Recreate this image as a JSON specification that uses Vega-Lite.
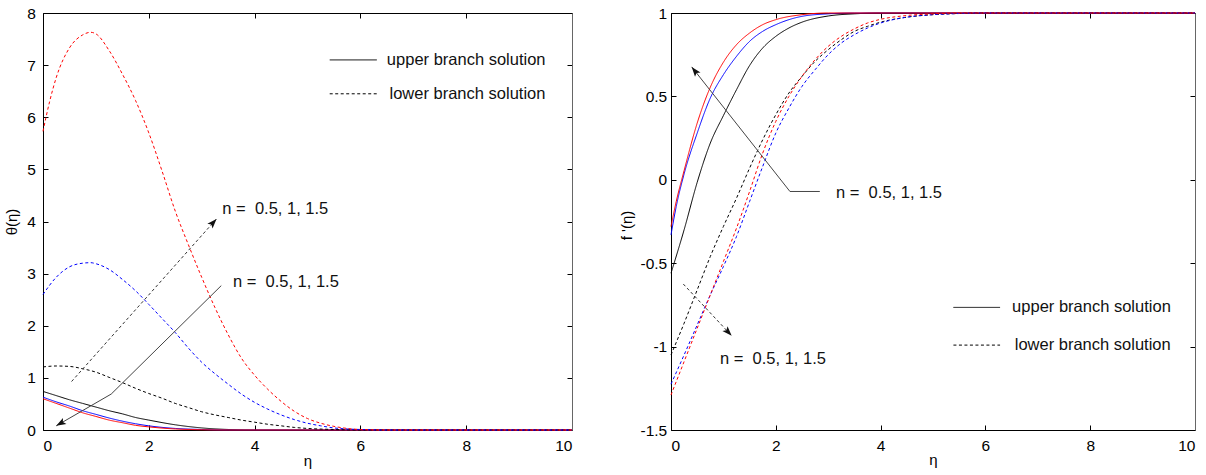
{
  "$schema": "https://vega.github.io/schema/vega-lite/v6.json",
  "background": "white",
  "padding": {"left": 4, "top": 6, "right": 5, "bottom": 5},
  "bounds": "flush",
  "spacing": 99,
  "config": {
    "view": {"stroke": null},
    "font": "Liberation Sans",
    "axis": {
      "labelFont": "Liberation Sans", "labelFontSize": 15.5, "labelColor": "#000",
      "titleFont": "Liberation Sans", "titleFontSize": 15, "titleFontWeight": "normal", "titleColor": "#000",
      "tickColor": "#000", "tickSize": -5, "tickWidth": 1,
      "domainColor": "#000", "domainWidth": 1, "grid": false, "labelPadding": 13
    }
  },
  "datasets": {
    "theta": [
      {"eta":0,"v":0.74,"n":"0.5","branch":"upper"},{"eta":0.25,"v":0.66,"n":"0.5","branch":"upper"},{"eta":0.5,"v":0.58,"n":"0.5","branch":"upper"},{"eta":0.75,"v":0.51,"n":"0.5","branch":"upper"},{"eta":1,"v":0.44,"n":"0.5","branch":"upper"},{"eta":1.25,"v":0.37,"n":"0.5","branch":"upper"},{"eta":1.5,"v":0.31,"n":"0.5","branch":"upper"},{"eta":1.75,"v":0.24,"n":"0.5","branch":"upper"},{"eta":2,"v":0.19,"n":"0.5","branch":"upper"},{"eta":2.5,"v":0.1,"n":"0.5","branch":"upper"},{"eta":3,"v":0.04,"n":"0.5","branch":"upper"},{"eta":3.5,"v":0.01,"n":"0.5","branch":"upper"},{"eta":4,"v":0,"n":"0.5","branch":"upper"},{"eta":10,"v":0,"n":"0.5","branch":"upper"},
      {"eta":0,"v":0.63,"n":"1","branch":"upper"},{"eta":0.25,"v":0.54,"n":"1","branch":"upper"},{"eta":0.5,"v":0.46,"n":"1","branch":"upper"},{"eta":0.75,"v":0.37,"n":"1","branch":"upper"},{"eta":1,"v":0.3,"n":"1","branch":"upper"},{"eta":1.25,"v":0.23,"n":"1","branch":"upper"},{"eta":1.5,"v":0.17,"n":"1","branch":"upper"},{"eta":1.75,"v":0.12,"n":"1","branch":"upper"},{"eta":2,"v":0.08,"n":"1","branch":"upper"},{"eta":2.5,"v":0.03,"n":"1","branch":"upper"},{"eta":3,"v":0.01,"n":"1","branch":"upper"},{"eta":3.5,"v":0,"n":"1","branch":"upper"},{"eta":10,"v":0,"n":"1","branch":"upper"},
      {"eta":0,"v":0.6,"n":"1.5","branch":"upper"},{"eta":0.25,"v":0.51,"n":"1.5","branch":"upper"},{"eta":0.5,"v":0.42,"n":"1.5","branch":"upper"},{"eta":0.75,"v":0.33,"n":"1.5","branch":"upper"},{"eta":1,"v":0.26,"n":"1.5","branch":"upper"},{"eta":1.25,"v":0.19,"n":"1.5","branch":"upper"},{"eta":1.5,"v":0.14,"n":"1.5","branch":"upper"},{"eta":1.75,"v":0.09,"n":"1.5","branch":"upper"},{"eta":2,"v":0.06,"n":"1.5","branch":"upper"},{"eta":2.5,"v":0.02,"n":"1.5","branch":"upper"},{"eta":3,"v":0.005,"n":"1.5","branch":"upper"},{"eta":3.5,"v":0,"n":"1.5","branch":"upper"},{"eta":10,"v":0,"n":"1.5","branch":"upper"},
      {"eta":0,"v":1.21,"n":"0.5","branch":"lower"},{"eta":0.25,"v":1.228,"n":"0.5","branch":"lower"},{"eta":0.5,"v":1.22,"n":"0.5","branch":"lower"},{"eta":0.75,"v":1.175,"n":"0.5","branch":"lower"},{"eta":1,"v":1.11,"n":"0.5","branch":"lower"},{"eta":1.25,"v":1.01,"n":"0.5","branch":"lower"},{"eta":1.5,"v":0.91,"n":"0.5","branch":"lower"},{"eta":1.75,"v":0.8,"n":"0.5","branch":"lower"},{"eta":2,"v":0.7,"n":"0.5","branch":"lower"},{"eta":2.25,"v":0.61,"n":"0.5","branch":"lower"},{"eta":2.5,"v":0.51,"n":"0.5","branch":"lower"},{"eta":2.75,"v":0.43,"n":"0.5","branch":"lower"},{"eta":3,"v":0.35,"n":"0.5","branch":"lower"},{"eta":3.25,"v":0.29,"n":"0.5","branch":"lower"},{"eta":3.5,"v":0.24,"n":"0.5","branch":"lower"},{"eta":3.75,"v":0.19,"n":"0.5","branch":"lower"},{"eta":4,"v":0.15,"n":"0.5","branch":"lower"},{"eta":4.25,"v":0.11,"n":"0.5","branch":"lower"},{"eta":4.5,"v":0.08,"n":"0.5","branch":"lower"},{"eta":4.75,"v":0.05,"n":"0.5","branch":"lower"},{"eta":5,"v":0.03,"n":"0.5","branch":"lower"},{"eta":5.5,"v":0.01,"n":"0.5","branch":"lower"},{"eta":6,"v":0,"n":"0.5","branch":"lower"},{"eta":10,"v":0,"n":"0.5","branch":"lower"},
      {"eta":0,"v":2.6,"n":"1","branch":"lower"},{"eta":0.25,"v":2.93,"n":"1","branch":"lower"},{"eta":0.5,"v":3.13,"n":"1","branch":"lower"},{"eta":0.75,"v":3.2,"n":"1","branch":"lower"},{"eta":0.9,"v":3.21,"n":"1","branch":"lower"},{"eta":1,"v":3.19,"n":"1","branch":"lower"},{"eta":1.25,"v":3.08,"n":"1","branch":"lower"},{"eta":1.5,"v":2.89,"n":"1","branch":"lower"},{"eta":1.75,"v":2.67,"n":"1","branch":"lower"},{"eta":2,"v":2.41,"n":"1","branch":"lower"},{"eta":2.25,"v":2.14,"n":"1","branch":"lower"},{"eta":2.5,"v":1.87,"n":"1","branch":"lower"},{"eta":2.75,"v":1.57,"n":"1","branch":"lower"},{"eta":3,"v":1.3,"n":"1","branch":"lower"},{"eta":3.25,"v":1.08,"n":"1","branch":"lower"},{"eta":3.5,"v":0.88,"n":"1","branch":"lower"},{"eta":3.75,"v":0.69,"n":"1","branch":"lower"},{"eta":4,"v":0.53,"n":"1","branch":"lower"},{"eta":4.25,"v":0.4,"n":"1","branch":"lower"},{"eta":4.5,"v":0.29,"n":"1","branch":"lower"},{"eta":4.75,"v":0.2,"n":"1","branch":"lower"},{"eta":5,"v":0.13,"n":"1","branch":"lower"},{"eta":5.25,"v":0.08,"n":"1","branch":"lower"},{"eta":5.5,"v":0.04,"n":"1","branch":"lower"},{"eta":5.75,"v":0.02,"n":"1","branch":"lower"},{"eta":6,"v":0.01,"n":"1","branch":"lower"},{"eta":6.5,"v":0,"n":"1","branch":"lower"},{"eta":10,"v":0,"n":"1","branch":"lower"},
      {"eta":0,"v":5.73,"n":"1.5","branch":"lower"},{"eta":0.125,"v":6.3,"n":"1.5","branch":"lower"},{"eta":0.25,"v":6.76,"n":"1.5","branch":"lower"},{"eta":0.5,"v":7.33,"n":"1.5","branch":"lower"},{"eta":0.75,"v":7.58,"n":"1.5","branch":"lower"},{"eta":0.9,"v":7.63,"n":"1.5","branch":"lower"},{"eta":1,"v":7.6,"n":"1.5","branch":"lower"},{"eta":1.25,"v":7.28,"n":"1.5","branch":"lower"},{"eta":1.5,"v":6.83,"n":"1.5","branch":"lower"},{"eta":1.75,"v":6.32,"n":"1.5","branch":"lower"},{"eta":2,"v":5.7,"n":"1.5","branch":"lower"},{"eta":2.25,"v":4.97,"n":"1.5","branch":"lower"},{"eta":2.5,"v":4.2,"n":"1.5","branch":"lower"},{"eta":2.75,"v":3.55,"n":"1.5","branch":"lower"},{"eta":3,"v":2.93,"n":"1.5","branch":"lower"},{"eta":3.25,"v":2.35,"n":"1.5","branch":"lower"},{"eta":3.5,"v":1.83,"n":"1.5","branch":"lower"},{"eta":3.75,"v":1.38,"n":"1.5","branch":"lower"},{"eta":4,"v":1.05,"n":"1.5","branch":"lower"},{"eta":4.25,"v":0.78,"n":"1.5","branch":"lower"},{"eta":4.5,"v":0.55,"n":"1.5","branch":"lower"},{"eta":4.75,"v":0.36,"n":"1.5","branch":"lower"},{"eta":5,"v":0.22,"n":"1.5","branch":"lower"},{"eta":5.25,"v":0.13,"n":"1.5","branch":"lower"},{"eta":5.5,"v":0.07,"n":"1.5","branch":"lower"},{"eta":5.75,"v":0.03,"n":"1.5","branch":"lower"},{"eta":6,"v":0.01,"n":"1.5","branch":"lower"},{"eta":6.5,"v":0,"n":"1.5","branch":"lower"},{"eta":10,"v":0,"n":"1.5","branch":"lower"}
    ],
    "fprime": [
      {"eta":0,"v":-0.56,"n":"0.5","branch":"upper"},{"eta":0.25,"v":-0.3,"n":"0.5","branch":"upper"},{"eta":0.5,"v":-0.015,"n":"0.5","branch":"upper"},{"eta":0.75,"v":0.22,"n":"0.5","branch":"upper"},{"eta":1,"v":0.385,"n":"0.5","branch":"upper"},{"eta":1.25,"v":0.54,"n":"0.5","branch":"upper"},{"eta":1.5,"v":0.685,"n":"0.5","branch":"upper"},{"eta":1.75,"v":0.79,"n":"0.5","branch":"upper"},{"eta":2,"v":0.86,"n":"0.5","branch":"upper"},{"eta":2.25,"v":0.91,"n":"0.5","branch":"upper"},{"eta":2.5,"v":0.945,"n":"0.5","branch":"upper"},{"eta":3,"v":0.982,"n":"0.5","branch":"upper"},{"eta":3.5,"v":0.995,"n":"0.5","branch":"upper"},{"eta":4,"v":1,"n":"0.5","branch":"upper"},{"eta":10,"v":1,"n":"0.5","branch":"upper"},
      {"eta":0,"v":-0.33,"n":"1","branch":"upper"},{"eta":0.1,"v":-0.16,"n":"1","branch":"upper"},{"eta":0.25,"v":0.035,"n":"1","branch":"upper"},{"eta":0.5,"v":0.28,"n":"1","branch":"upper"},{"eta":0.75,"v":0.49,"n":"1","branch":"upper"},{"eta":1,"v":0.63,"n":"1","branch":"upper"},{"eta":1.25,"v":0.74,"n":"1","branch":"upper"},{"eta":1.5,"v":0.83,"n":"1","branch":"upper"},{"eta":1.75,"v":0.89,"n":"1","branch":"upper"},{"eta":2,"v":0.93,"n":"1","branch":"upper"},{"eta":2.5,"v":0.98,"n":"1","branch":"upper"},{"eta":3,"v":0.995,"n":"1","branch":"upper"},{"eta":3.5,"v":1,"n":"1","branch":"upper"},{"eta":10,"v":1,"n":"1","branch":"upper"},
      {"eta":0,"v":-0.28,"n":"1.5","branch":"upper"},{"eta":0.1,"v":-0.13,"n":"1.5","branch":"upper"},{"eta":0.25,"v":0.055,"n":"1.5","branch":"upper"},{"eta":0.5,"v":0.34,"n":"1.5","branch":"upper"},{"eta":0.75,"v":0.555,"n":"1.5","branch":"upper"},{"eta":1,"v":0.705,"n":"1.5","branch":"upper"},{"eta":1.25,"v":0.81,"n":"1.5","branch":"upper"},{"eta":1.5,"v":0.88,"n":"1.5","branch":"upper"},{"eta":1.75,"v":0.93,"n":"1.5","branch":"upper"},{"eta":2,"v":0.96,"n":"1.5","branch":"upper"},{"eta":2.5,"v":0.99,"n":"1.5","branch":"upper"},{"eta":3,"v":1,"n":"1.5","branch":"upper"},{"eta":10,"v":1,"n":"1.5","branch":"upper"},
      {"eta":0,"v":-1.05,"n":"0.5","branch":"lower"},{"eta":0.25,"v":-0.86,"n":"0.5","branch":"lower"},{"eta":0.5,"v":-0.66,"n":"0.5","branch":"lower"},{"eta":0.75,"v":-0.46,"n":"0.5","branch":"lower"},{"eta":1,"v":-0.28,"n":"0.5","branch":"lower"},{"eta":1.25,"v":-0.11,"n":"0.5","branch":"lower"},{"eta":1.5,"v":0.07,"n":"0.5","branch":"lower"},{"eta":1.75,"v":0.24,"n":"0.5","branch":"lower"},{"eta":2,"v":0.39,"n":"0.5","branch":"lower"},{"eta":2.25,"v":0.52,"n":"0.5","branch":"lower"},{"eta":2.5,"v":0.62,"n":"0.5","branch":"lower"},{"eta":2.75,"v":0.71,"n":"0.5","branch":"lower"},{"eta":3,"v":0.78,"n":"0.5","branch":"lower"},{"eta":3.25,"v":0.84,"n":"0.5","branch":"lower"},{"eta":3.5,"v":0.89,"n":"0.5","branch":"lower"},{"eta":3.75,"v":0.92,"n":"0.5","branch":"lower"},{"eta":4,"v":0.945,"n":"0.5","branch":"lower"},{"eta":4.5,"v":0.975,"n":"0.5","branch":"lower"},{"eta":5,"v":0.99,"n":"0.5","branch":"lower"},{"eta":5.5,"v":0.997,"n":"0.5","branch":"lower"},{"eta":6,"v":1,"n":"0.5","branch":"lower"},{"eta":10,"v":1,"n":"0.5","branch":"lower"},
      {"eta":0,"v":-1.225,"n":"1","branch":"lower"},{"eta":0.25,"v":-1.05,"n":"1","branch":"lower"},{"eta":0.5,"v":-0.87,"n":"1","branch":"lower"},{"eta":0.75,"v":-0.69,"n":"1","branch":"lower"},{"eta":1,"v":-0.52,"n":"1","branch":"lower"},{"eta":1.25,"v":-0.34,"n":"1","branch":"lower"},{"eta":1.5,"v":-0.13,"n":"1","branch":"lower"},{"eta":1.75,"v":0.08,"n":"1","branch":"lower"},{"eta":2,"v":0.28,"n":"1","branch":"lower"},{"eta":2.25,"v":0.43,"n":"1","branch":"lower"},{"eta":2.5,"v":0.56,"n":"1","branch":"lower"},{"eta":2.75,"v":0.66,"n":"1","branch":"lower"},{"eta":3,"v":0.75,"n":"1","branch":"lower"},{"eta":3.25,"v":0.82,"n":"1","branch":"lower"},{"eta":3.5,"v":0.87,"n":"1","branch":"lower"},{"eta":3.75,"v":0.91,"n":"1","branch":"lower"},{"eta":4,"v":0.94,"n":"1","branch":"lower"},{"eta":4.5,"v":0.975,"n":"1","branch":"lower"},{"eta":5,"v":0.99,"n":"1","branch":"lower"},{"eta":5.5,"v":0.997,"n":"1","branch":"lower"},{"eta":6,"v":1,"n":"1","branch":"lower"},{"eta":10,"v":1,"n":"1","branch":"lower"},
      {"eta":0,"v":-1.29,"n":"1.5","branch":"lower"},{"eta":0.25,"v":-1.09,"n":"1.5","branch":"lower"},{"eta":0.5,"v":-0.89,"n":"1.5","branch":"lower"},{"eta":0.75,"v":-0.69,"n":"1.5","branch":"lower"},{"eta":1,"v":-0.49,"n":"1.5","branch":"lower"},{"eta":1.25,"v":-0.29,"n":"1.5","branch":"lower"},{"eta":1.5,"v":-0.07,"n":"1.5","branch":"lower"},{"eta":1.75,"v":0.16,"n":"1.5","branch":"lower"},{"eta":2,"v":0.35,"n":"1.5","branch":"lower"},{"eta":2.25,"v":0.5,"n":"1.5","branch":"lower"},{"eta":2.5,"v":0.62,"n":"1.5","branch":"lower"},{"eta":2.75,"v":0.72,"n":"1.5","branch":"lower"},{"eta":3,"v":0.8,"n":"1.5","branch":"lower"},{"eta":3.25,"v":0.86,"n":"1.5","branch":"lower"},{"eta":3.5,"v":0.905,"n":"1.5","branch":"lower"},{"eta":3.75,"v":0.94,"n":"1.5","branch":"lower"},{"eta":4,"v":0.962,"n":"1.5","branch":"lower"},{"eta":4.5,"v":0.985,"n":"1.5","branch":"lower"},{"eta":5,"v":0.995,"n":"1.5","branch":"lower"},{"eta":5.5,"v":1,"n":"1.5","branch":"lower"},{"eta":10,"v":1,"n":"1.5","branch":"lower"}
    ]
  },
  "hconcat": [
    {
      "width": 529,
      "height": 417,
      "resolve": {"axis": {"x": "independent", "y": "independent"}},
      "layer": [
        {
          "data": {"name": "theta"},
          "mark": {"type": "line", "strokeWidth": 1, "interpolate": "monotone"},
          "encoding": {
            "x": {"field": "eta", "type": "quantitative", "scale": {"domain": [0, 10], "nice": false},
                  "axis": {"orient": "bottom", "values": [0, 2, 4, 6, 8, 10], "title": "η", "titleY": 35, "titleBaseline": "alphabetic"}},
            "y": {"field": "v", "type": "quantitative", "scale": {"domain": [0, 8], "nice": false},
                  "axis": {"orient": "left", "values": [0, 1, 2, 3, 4, 5, 6, 7, 8], "title": "θ(η)", "titleX": -32, "titleBaseline": "middle", "labelPadding": 12.6}},
            "color": {"field": "n", "type": "nominal", "scale": {"domain": ["0.5", "1", "1.5"], "range": ["#000000", "#0000ff", "#ff0000"]}, "legend": null},
            "strokeDash": {"field": "branch", "type": "nominal", "scale": {"domain": ["upper", "lower"], "range": [[1, 0], [3, 2.5]]}, "legend": null}
          }
        },
        {
          "data": {"values": [
            {"eta": 5.42, "v": 7.1, "branch": "upper"}, {"eta": 6.31, "v": 7.1, "branch": "upper"},
            {"eta": 5.42, "v": 6.45, "branch": "lower"}, {"eta": 6.31, "v": 6.45, "branch": "lower"}
          ]},
          "mark": {"type": "line", "strokeWidth": 1, "color": "#000"},
          "encoding": {
            "x": {"field": "eta", "type": "quantitative", "scale": {"domain": [0, 10], "nice": false},
                  "axis": {"orient": "top", "values": [0, 2, 4, 6, 8, 10], "labels": false, "title": null}},
            "y": {"field": "v", "type": "quantitative", "scale": {"domain": [0, 8], "nice": false},
                  "axis": {"orient": "right", "values": [0, 1, 2, 3, 4, 5, 6, 7, 8], "labels": false, "title": null, "domainColor": "#666"}},
            "strokeDash": {"field": "branch", "type": "nominal", "legend": null}
          }
        },
        {
          "data": {"values": [
            {"eta": 6.5, "v": 7.1, "label": "upper branch solution"},
            {"eta": 6.55, "v": 6.45, "label": "lower branch solution"},
            {"eta": 3.39, "v": 4.24, "label": "n = \u00a00.5, 1, 1.5"},
            {"eta": 3.59, "v": 2.83, "label": "n = \u00a00.5, 1, 1.5"}
          ]},
          "mark": {"type": "text", "align": "left", "baseline": "middle", "fontSize": 16.5, "font": "Liberation Sans", "color": "#111"},
          "encoding": {
            "x": {"field": "eta", "type": "quantitative", "scale": {"domain": [0, 10], "nice": false}, "axis": null},
            "y": {"field": "v", "type": "quantitative", "scale": {"domain": [0, 8], "nice": false}, "axis": null},
            "text": {"field": "label"}
          }
        },
        {
          "data": {"values": [{"eta": 0.54, "v": 0.93}, {"eta": 3.28, "v": 4.05}]},
          "mark": {"type": "line", "strokeWidth": 1, "color": "#333", "strokeDash": [3, 2.5]},
          "encoding": {
            "x": {"field": "eta", "type": "quantitative", "scale": {"domain": [0, 10], "nice": false}, "axis": null},
            "y": {"field": "v", "type": "quantitative", "scale": {"domain": [0, 8], "nice": false}, "axis": null}
          }
        },
        {
          "data": {"values": [{"eta": 3.37, "v": 2.77, "k": 1}, {"eta": 1.29, "v": 0.69, "k": 2}, {"eta": 0.25, "v": 0.08, "k": 3}]},
          "mark": {"type": "line", "strokeWidth": 1, "color": "#444"},
          "encoding": {
            "x": {"field": "eta", "type": "quantitative", "scale": {"domain": [0, 10], "nice": false}, "axis": null},
            "y": {"field": "v", "type": "quantitative", "scale": {"domain": [0, 8], "nice": false}, "axis": null},
            "order": {"field": "k"}
          }
        },
        {
          "data": {"values": [{"eta": 3.28, "v": 4.05}]},
          "mark": {"type": "point", "shape": "M0,0L-1,2.8L0,2.2L1,2.8Z", "filled": true, "opacity": 1, "size": 49, "angle": 42, "color": "#111"},
          "encoding": {
            "x": {"field": "eta", "type": "quantitative", "scale": {"domain": [0, 10], "nice": false}, "axis": null},
            "y": {"field": "v", "type": "quantitative", "scale": {"domain": [0, 8], "nice": false}, "axis": null}
          }
        },
        {
          "data": {"values": [{"eta": 0.25, "v": 0.08}]},
          "mark": {"type": "point", "shape": "M0,0L-1,2.8L0,2.2L1,2.8Z", "filled": true, "opacity": 1, "size": 49, "angle": 240, "color": "#111"},
          "encoding": {
            "x": {"field": "eta", "type": "quantitative", "scale": {"domain": [0, 10], "nice": false}, "axis": null},
            "y": {"field": "v", "type": "quantitative", "scale": {"domain": [0, 8], "nice": false}, "axis": null}
          }
        }
      ]
    },
    {
      "width": 524,
      "height": 417,
      "resolve": {"axis": {"x": "independent", "y": "independent"}},
      "layer": [
        {
          "data": {"name": "fprime"},
          "mark": {"type": "line", "strokeWidth": 1, "interpolate": "monotone"},
          "encoding": {
            "x": {"field": "eta", "type": "quantitative", "scale": {"domain": [0, 10], "nice": false},
                  "axis": {"orient": "bottom", "values": [0, 2, 4, 6, 8, 10], "title": "η", "titleY": 34, "titleBaseline": "alphabetic"}},
            "y": {"field": "v", "type": "quantitative", "scale": {"domain": [-1.5, 1], "nice": false},
                  "axis": {"orient": "left", "values": [-1.5, -1, -0.5, 0, 0.5, 1], "labelExpr": "datum.value + ''", "title": "f '(η)", "titleX": -45, "titleY": 212, "titleBaseline": "middle", "labelPadding": 9.3}},
            "color": {"field": "n", "type": "nominal", "scale": {"domain": ["0.5", "1", "1.5"], "range": ["#000000", "#0000ff", "#ff0000"]}, "legend": null},
            "strokeDash": {"field": "branch", "type": "nominal", "scale": {"domain": ["upper", "lower"], "range": [[1, 0], [3, 2.5]]}, "legend": null}
          }
        },
        {
          "data": {"values": [
            {"eta": 5.39, "v": -0.765, "branch": "upper"}, {"eta": 6.28, "v": -0.765, "branch": "upper"},
            {"eta": 5.39, "v": -0.991, "branch": "lower"}, {"eta": 6.28, "v": -0.991, "branch": "lower"}
          ]},
          "mark": {"type": "line", "strokeWidth": 1, "color": "#000"},
          "encoding": {
            "x": {"field": "eta", "type": "quantitative", "scale": {"domain": [0, 10], "nice": false},
                  "axis": {"orient": "top", "values": [0, 2, 4, 6, 8, 10], "labels": false, "title": null}},
            "y": {"field": "v", "type": "quantitative", "scale": {"domain": [-1.5, 1], "nice": false},
                  "axis": {"orient": "right", "values": [-1.5, -1, -0.5, 0, 0.5, 1], "labels": false, "title": null, "domainColor": "#666"}},
            "strokeDash": {"field": "branch", "type": "nominal", "legend": null}
          }
        },
        {
          "data": {"values": [
            {"eta": 6.51, "v": -0.765, "label": "upper branch solution"},
            {"eta": 6.56, "v": -0.991, "label": "lower branch solution"},
            {"eta": 3.15, "v": -0.078, "label": "n = \u00a00.5, 1, 1.5"},
            {"eta": 0.935, "v": -1.075, "label": "n = \u00a00.5, 1, 1.5"}
          ]},
          "mark": {"type": "text", "align": "left", "baseline": "middle", "fontSize": 16.5, "font": "Liberation Sans", "color": "#111"},
          "encoding": {
            "x": {"field": "eta", "type": "quantitative", "scale": {"domain": [0, 10], "nice": false}, "axis": null},
            "y": {"field": "v", "type": "quantitative", "scale": {"domain": [-1.5, 1], "nice": false}, "axis": null},
            "text": {"field": "label"}
          }
        },
        {
          "data": {"values": [{"eta": 0.235, "v": -0.625}, {"eta": 1.158, "v": -0.935}]},
          "mark": {"type": "line", "strokeWidth": 1, "color": "#333", "strokeDash": [3, 2.5]},
          "encoding": {
            "x": {"field": "eta", "type": "quantitative", "scale": {"domain": [0, 10], "nice": false}, "axis": null},
            "y": {"field": "v", "type": "quantitative", "scale": {"domain": [-1.5, 1], "nice": false}, "axis": null}
          }
        },
        {
          "data": {"values": [{"eta": 2.84, "v": -0.07, "k": 1}, {"eta": 2.27, "v": -0.07, "k": 2}, {"eta": 0.395, "v": 0.677, "k": 3}]},
          "mark": {"type": "line", "strokeWidth": 1, "color": "#444"},
          "encoding": {
            "x": {"field": "eta", "type": "quantitative", "scale": {"domain": [0, 10], "nice": false}, "axis": null},
            "y": {"field": "v", "type": "quantitative", "scale": {"domain": [-1.5, 1], "nice": false}, "axis": null},
            "order": {"field": "k"}
          }
        },
        {
          "data": {"values": [{"eta": 0.395, "v": 0.677}]},
          "mark": {"type": "point", "shape": "M0,0L-1,2.8L0,2.2L1,2.8Z", "filled": true, "opacity": 1, "size": 49, "angle": 321.7, "color": "#111"},
          "encoding": {
            "x": {"field": "eta", "type": "quantitative", "scale": {"domain": [0, 10], "nice": false}, "axis": null},
            "y": {"field": "v", "type": "quantitative", "scale": {"domain": [-1.5, 1], "nice": false}, "axis": null}
          }
        },
        {
          "data": {"values": [{"eta": 1.158, "v": -0.935}]},
          "mark": {"type": "point", "shape": "M0,0L-1,2.8L0,2.2L1,2.8Z", "filled": true, "opacity": 1, "size": 49, "angle": 136.8, "color": "#111"},
          "encoding": {
            "x": {"field": "eta", "type": "quantitative", "scale": {"domain": [0, 10], "nice": false}, "axis": null},
            "y": {"field": "v", "type": "quantitative", "scale": {"domain": [-1.5, 1], "nice": false}, "axis": null}
          }
        }
      ]
    }
  ]
}
